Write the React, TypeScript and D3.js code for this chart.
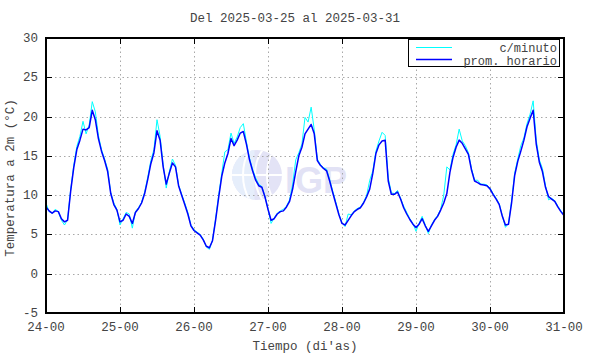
import React from "react";
import * as d3 from "d3";

const title = "Del 2025-03-25 al 2025-03-31";
const xTitle = "Tiempo (di'as)";
const yTitle = "Temperatura a 2m (°C)";
const dayLabels = ["24-00", "25-00", "26-00", "27-00", "28-00", "29-00", "30-00", "31-00"];
const yTicks = [-5, 0, 5, 10, 15, 20, 25, 30];
const legendLabels = ["c/minuto", "prom. horario"];

// hourly average (one value per hour, from 24-00 to 31-00)
const hourly = [
  8.5, 8.0, 7.7, 8.0, 7.9, 7.0, 6.6, 6.8, 10.5, 13.5, 15.8, 17.0, 18.4, 18.3, 18.6, 20.8, 19.6, 17.2, 15.6, 14.4, 13.0, 10.2, 8.8, 8.1,
  6.6, 6.8, 7.6, 7.3, 6.4, 7.8, 8.3, 9.0, 10.2, 12.0, 14.0, 15.4, 18.2, 17.0, 13.6, 11.4, 12.8, 14.1, 13.6, 11.2, 10.0, 8.8, 7.6, 6.1,
  5.5, 5.2, 4.9, 4.3, 3.5, 3.3, 4.2, 6.8, 9.7, 12.4, 14.1, 15.3, 17.2, 16.3, 17.0, 17.9, 18.1, 16.5, 14.5, 13.1, 11.9, 11.2, 11.0, 9.8,
  8.2, 6.8, 7.0, 7.6, 7.9, 8.0, 8.5, 9.2, 10.8, 13.0, 15.0, 16.1, 17.8, 18.4, 19.0, 17.8, 14.4, 13.8, 13.4, 13.1, 11.8, 10.3, 8.9, 7.5,
  6.4, 6.2, 6.8, 7.4, 7.9, 8.2, 8.4, 9.0, 9.8, 10.8, 12.8, 15.3, 16.4, 16.9, 17.0, 11.8, 10.1, 10.1, 10.4, 9.5, 8.4, 7.6, 6.9, 6.3,
  5.9, 6.3, 7.0, 6.1, 5.4, 6.1, 6.8, 7.3, 8.1, 9.0, 10.2, 12.9, 14.8, 16.1, 17.0, 16.6, 15.9, 15.2, 13.2, 11.8, 11.6, 11.35, 11.3, 11.2,
  10.8, 10.1, 9.5, 8.8, 7.3, 6.2, 6.3, 9.0, 12.5, 14.3, 15.6, 17.0, 18.7, 19.8, 20.8, 16.5, 14.2, 13.0, 11.0, 9.8, 9.5, 9.2, 8.5, 7.9,
  7.4,
];

// per-minute series, sampled (extremes kept)
const perMinute = [
  9.0, 7.9, 7.7, 8.2, 7.9, 6.8, 6.2, 6.9, 10.7, 13.8, 16.2, 17.5, 19.4, 17.8, 18.9, 21.9, 20.6, 17.6, 15.8, 14.6, 13.3, 10.3, 9.0, 8.2,
  6.2, 7.0, 7.8, 7.6, 5.8, 7.9, 8.4, 9.1, 10.4, 12.3, 14.4, 15.8, 19.6, 17.5, 13.9, 10.9, 13.0, 14.6, 13.8, 11.3, 10.1, 9.0, 7.8, 6.2,
  5.6, 5.3, 5.0, 4.4, 3.4, 3.1, 4.3, 7.0, 10.0, 12.8, 15.5, 15.8, 17.9, 16.6, 17.4, 18.6, 19.1, 16.8, 14.7, 13.3, 12.2, 11.4, 11.1, 9.9,
  8.3, 6.4, 7.1, 7.7, 8.0, 8.2, 8.6, 9.4, 11.4, 14.5, 15.4, 16.5, 19.9, 19.3, 21.2, 18.3, 14.6, 13.9, 13.5, 13.3, 12.0, 10.5, 9.1, 7.6,
  6.5, 6.0, 7.6, 7.5, 8.0, 8.3, 8.5, 9.1, 10.0, 11.9, 13.1, 15.6, 16.9, 18.0, 17.6, 12.2, 10.3, 10.2, 10.6, 9.6, 8.6, 7.8, 7.0, 6.4,
  5.4, 6.4, 7.3, 6.2, 5.1, 6.2, 6.9, 7.4, 8.2, 10.0, 13.6, 13.2, 15.2, 16.4, 18.4, 16.9, 16.3, 15.4, 13.4, 11.9, 11.9, 11.4, 11.4, 11.3,
  10.9, 10.2, 9.6, 8.9, 7.4, 5.9, 6.4, 9.3, 12.8, 14.6, 16.3, 17.3, 19.1, 20.3, 22.0, 17.0, 14.5, 13.4, 11.2, 9.4, 9.6, 9.3, 8.6, 8.0,
  7.5,
];

const W = 590;
const H = 354;
const L = 46, R = 564, T = 38, B = 313;
const FONT = "'Liberation Mono', 'DejaVu Sans Mono', monospace";
const TXT = "#444";

export default function App() {
  const x = d3.scaleLinear().domain([0, (dayLabels.length - 1) * 24]).range([L, R]);
  const y = d3.scaleLinear().domain([-5, 30]).range([B, T]);
  const line = d3
    .line<number>()
    .x((_, i) => x(i))
    .y((d) => y(d));

  const dayTicks = dayLabels.map((_, i) => i * 24);
  const tickLen = 6;

  // watermark geometry
  const wcx = 257, wcy = 175, wr = 25;

  return (
    <div style={{ position: "fixed", left: 0, top: 0 }}>
      <svg width={W} height={H} style={{ display: "block", background: "#fff" }}>
        <defs>
          <clipPath id="globe">
            <circle cx={wcx} cy={wcy} r={wr} />
          </clipPath>
        </defs>
        <rect x={0} y={0} width={W} height={H} fill="#fff" />
        {/* title */}
        <text x={295} y={22} textAnchor="middle" fontFamily={FONT} fontSize={12.5} fill={TXT}>
          {title}
        </text>

        {/* watermark */}
        <g>
          <circle cx={wcx} cy={wcy} r={wr} fill="#e3e3f6" />
          <g clipPath="url(#globe)" fill="none" stroke="#ffffff" strokeWidth={2}>
            <rect x={wcx - wr} y={wcy - wr} width={wr * 0.9} height={wr * 2} fill="#e6eefb" stroke="none" />
            <ellipse cx={wcx + 32} cy={wcy} rx={22} ry={34} />
            <ellipse cx={wcx + 32} cy={wcy} rx={34} ry={40} />
            <ellipse cx={wcx + 32} cy={wcy} rx={46} ry={48} />
            <line x1={wcx - wr} y1={wcy} x2={wcx + wr} y2={wcy} />
          </g>
          <text x={285} y={193} fontFamily="'Liberation Sans', Arial, sans-serif" fontWeight="bold" fontSize={36} fill="#e2e2f5">
            IGP
          </text>
        </g>

        {/* grid */}
        <g stroke="#a8a8a8" strokeWidth={1} strokeDasharray="1.5,3">
          {dayTicks.slice(1, -1).map((t) => (
            <line key={"gx" + t} x1={Math.round(x(t)) + 0.5} x2={Math.round(x(t)) + 0.5} y1={T} y2={B} />
          ))}
          {yTicks.slice(1, -1).map((t) => (
            <line key={"gy" + t} x1={L} x2={R} y1={Math.round(y(t)) + 0.5} y2={Math.round(y(t)) + 0.5} />
          ))}
        </g>

        {/* series */}
        <path d={line(perMinute) || ""} fill="none" stroke="#00ffff" strokeWidth={1} strokeLinejoin="round" />
        <path d={line(hourly) || ""} fill="none" stroke="#0000ff" strokeWidth={1.5} strokeLinejoin="round" />

        {/* ticks */}
        <g stroke="#000" strokeWidth={1}>
          {yTicks.map((t) => {
            const yy = Math.round(y(t)) + 0.5;
            return (
              <g key={"ty" + t}>
                <line x1={L} x2={L + tickLen} y1={yy} y2={yy} />
                <line x1={R - tickLen} x2={R} y1={yy} y2={yy} />
              </g>
            );
          })}
          {dayTicks.map((t) => {
            const xx = Math.round(x(t)) + 0.5;
            return (
              <g key={"tx" + t}>
                <line x1={xx} x2={xx} y1={B} y2={B - tickLen} />
                <line x1={xx} x2={xx} y1={T} y2={T + tickLen} />
              </g>
            );
          })}
        </g>

        {/* frame */}
        <rect x={L} y={T} width={R - L} height={B - T} fill="none" stroke="#000" strokeWidth={2} />

        {/* tick labels */}
        <g fontFamily={FONT} fontSize={12.5} fill={TXT}>
          {yTicks.map((t) => (
            <text key={"ly" + t} x={38} y={y(t) + 4} textAnchor="end">
              {t}
            </text>
          ))}
          {dayTicks.map((t, i) => (
            <text key={"lx" + t} x={x(t)} y={331} textAnchor="middle">
              {dayLabels[i]}
            </text>
          ))}
        </g>

        {/* axis titles */}
        <text x={305} y={350} textAnchor="middle" fontFamily={FONT} fontSize={12.5} fill={TXT}>
          {xTitle}
        </text>
        <text
          transform="translate(14,178) rotate(-90)"
          textAnchor="middle"
          fontFamily={FONT}
          fontSize={12.5}
          fill={TXT}
        >
          {yTitle}
        </text>

        {/* legend */}
        <g>
          <rect x={408.5} y={39.5} width={151} height={27} fill="#fff" stroke="#000" strokeWidth={1} />
          <line x1={416} x2={452} y1={47.5} y2={47.5} stroke="#00ffff" strokeWidth={1} />
          <line x1={416} x2={452} y1={59.5} y2={59.5} stroke="#0000ff" strokeWidth={1.5} />
          <text x={557} y={51.5} textAnchor="end" fontFamily={FONT} fontSize={12} fill={TXT}>
            {legendLabels[0]}
          </text>
          <text x={557} y={65.2} textAnchor="end" fontFamily={FONT} fontSize={12} fill={TXT}>
            {legendLabels[1]}
          </text>
        </g>
      </svg>
    </div>
  );
}
